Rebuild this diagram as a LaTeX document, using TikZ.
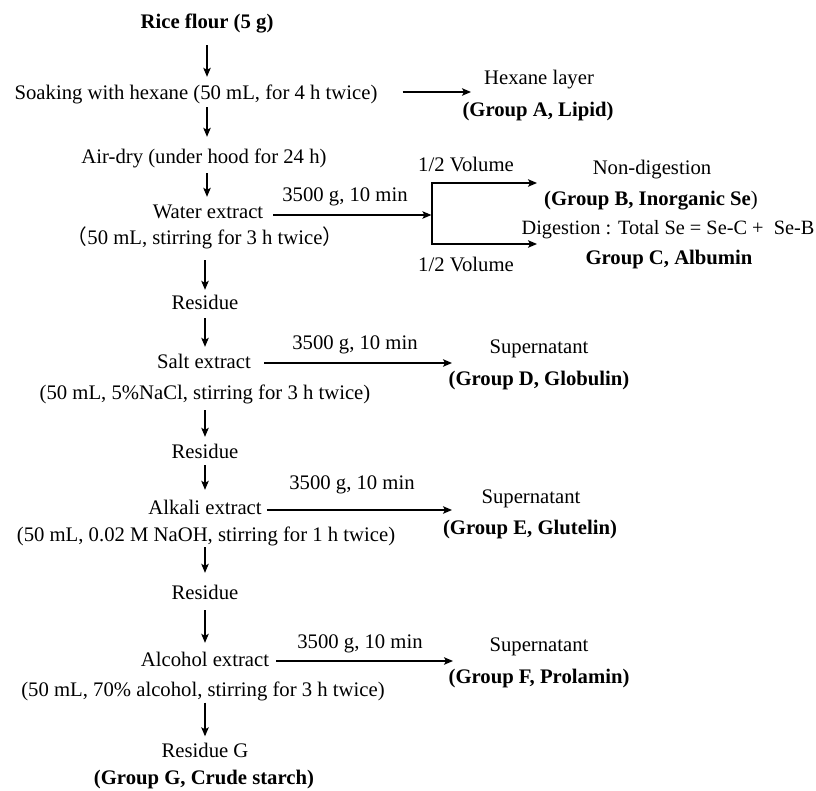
\documentclass[tikz,border=0pt]{standalone}
\usepackage{fontspec}
\setmainfont{Liberation Serif}
\newfontfamily\cjk{Noto Sans CJK SC}
\usetikzlibrary{arrows.meta}
\begin{document}
\begin{tikzpicture}[x=1pt,y=-1pt,
  t/.style={inner sep=0pt, text height=14pt, text depth=5pt, font=\fontsize{20.7}{24}\selectfont},
  arr/.style={line width=1.2pt, -{Stealth[length=9pt,width=7.5pt,inset=2pt]}},
  ln/.style={line width=1.2pt}]
\useasboundingbox (0,0) rectangle (816,791);
\fill[white] (0,0) rectangle (816,791);
% main column
\node[t] (rice) at (207,24) {\bfseries Rice flour (5 g)};
\node[t] (soak) at (196,95) {Soaking with hexane (50 mL, for 4 h twice)};
\node[t] (air) at (204,159) {Air-dry (under hood for 24 h)};
\node[t] (water) at (208,214) {Water extract};
\node[t] (waterp) at (205,240) {{\cjk （}50 mL, stirring for 3 h twice{\cjk ）}};
\node[t] (res1) at (205,305) {Residue};
\node[t] (salt) at (204,364) {Salt extract};
\node[t] (saltp) at (205,395) {(50 mL, 5\%NaCl, stirring for 3 h twice)};
\node[t] (res2) at (205,454) {Residue};
\node[t] (alk) at (205,510) {Alkali extract};
\node[t] (alkp) at (206,537) {(50 mL, 0.02 M NaOH, stirring for 1 h twice)};
\node[t] (res3) at (205,595) {Residue};
\node[t] (alc) at (205,662) {Alcohol extract};
\node[t] (alcp) at (203,692) {(50 mL, 70\% alcohol, stirring for 3 h twice)};
\node[t] (resG) at (205,753) {Residue G};
\node[t] (grpG) at (204,780) {\bfseries (Group G, Crude starch)};
% right column
\node[t] (hex) at (539,80) {Hexane layer};
\node[t] (grpA) at (538,112) {\bfseries (Group A, Lipid)};
\node[t] (volT) at (466,167) {1/2 Volume};
\node[t] (volB) at (466,267) {1/2 Volume};
\node[t] (nond) at (652,170) {Non-digestion};
\node[t] (grpB) at (651,201) {{\bfseries (Group B, Inorganic Se})};
\node[t, font=\fontsize{20.3}{24}\selectfont] (dig) at (668,230) {Digestion : Total Se = Se-C +\ \ Se-B};
\node[t] (grpC) at (669,260) {\bfseries Group C, Albumin};
\node[t] (supD) at (539,349) {Supernatant};
\node[t] (grpD) at (539,381) {\bfseries (Group D, Globulin)};
\node[t] (supE) at (531,499) {Supernatant};
\node[t] (grpE) at (530,530) {\bfseries (Group E, Glutelin)};
\node[t] (supF) at (539,647) {Supernatant};
\node[t] (grpF) at (539,679) {\bfseries (Group F, Prolamin)};
% centrifuge labels
\node[t] (cw) at (345,197) {3500 g, 10 min};
\node[t] (cs) at (355,345) {3500 g, 10 min};
\node[t] (ca) at (352,485) {3500 g, 10 min};
\node[t] (cl) at (360,644) {3500 g, 10 min};
% vertical arrows
\draw[arr, shorten <=11.5pt, shorten >=8.5pt] (rice) -- (rice |- soak.north);
\draw[arr, shorten <=2.5pt, shorten >=12.5pt] (soak.south -| rice) -- (rice |- air.north);
\draw[arr, shorten <=4.5pt, shorten >=7.5pt] (air.south -| rice) -- (rice |- water.north);
\draw[arr, shorten <=10.5pt, shorten >=5.5pt] (waterp.south -| res1) -- (res1);
\draw[arr, shorten <=3.5pt, shorten >=7.5pt] (res1) -- (res1 |- salt.north);
\draw[arr, shorten <=5.5pt, shorten >=7.5pt] (saltp.south -| res2) -- (res2);
\draw[arr, shorten <=1.5pt, shorten >=10.5pt] (res2) -- (alk);
\draw[arr, shorten <=0.5pt, shorten >=12.5pt] (alkp.south -| res3) -- (res3);
\draw[arr, shorten <=5.5pt, shorten >=9.5pt] (res3) -- (alc);
\draw[arr, shorten <=1pt, shorten >=7pt] (alcp.south -| resG) -- (resG);
% horizontal arrows
\coordinate (hexend) at (471,92);
\coordinate (brM) at (432,215);
\coordinate (brT) at (432,183);
\coordinate (brB) at (432,244);
\coordinate (tT) at (537,183);
\coordinate (tB) at (537,244);
\coordinate (saltend) at (452,363);
\coordinate (alkend) at (452,510);
\coordinate (alcend) at (453,661);
\draw[arr] ([xshift=25pt]soak.east |- hexend) -- (hexend);
\draw[arr, shorten >=0.6pt] ([xshift=10pt]water.east |- brM) -- (brM);
\draw[ln, {Stealth[length=9pt,width=7.5pt,inset=2pt]}-{Stealth[length=9pt,width=7.5pt,inset=2pt]}] (tT) -- (brT) -- (brB) -- (tB);
\draw[arr] ([xshift=13pt]salt.east |- saltend) -- (saltend);
\draw[arr] ([xshift=5pt]alk.east |- alkend) -- (alkend);
\draw[arr] ([xshift=7pt]alc.east |- alcend) -- (alcend);
\end{tikzpicture}
\end{document}
